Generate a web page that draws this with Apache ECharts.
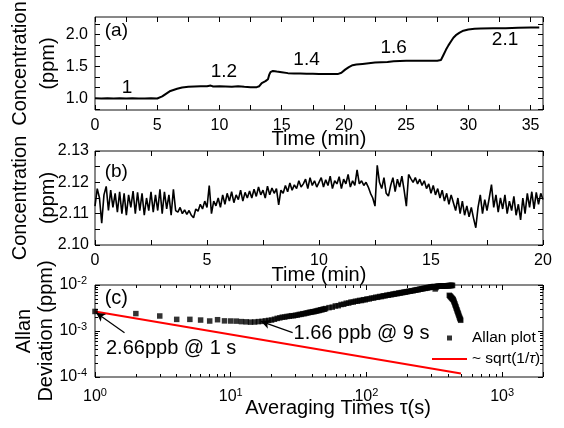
<!DOCTYPE html>
<html><head><meta charset="utf-8">
<script src="https://cdn.jsdelivr.net/npm/echarts@6/dist/echarts.min.js"></script>
<style>html,body{margin:0;padding:0;background:#fff}#c{width:564px;height:428px}</style>
</head><body><div id="c"></div>
<script>
// ---------------- DATA ----------------
// Panel (a): concentration steps
const timeA = [0,0.5,1,1.5,2,2.5,3,3.5,4,4.5,5,
  5.1,5.4,5.7,6,6.3,6.6,7,7.5,8,8.5,9,9.3,9.5,10,10.5,11,11.5,12,12.5,13,
  13.2,13.4,13.7,13.9,14,14.1,14.3,14.6,15,15.5,16,16.5,17,17.5,18,18.5,19,19.5,19.8,
  20.1,20.4,20.7,21,21.5,22,22.5,23,23.5,24,24.5,25,25.5,26,26.5,27,27.5,27.8,
  28,28.2,28.4,28.6,28.8,29,29.3,29.6,30,30.5,31,32,33,34,35,35.7];
const concA = [1.0,0.998,1.0,0.997,1.0,0.998,1.0,0.999,0.998,1.0,0.998,
  1.0,1.03,1.07,1.11,1.13,1.15,1.17,1.18,1.185,1.19,1.19,1.20,1.185,1.19,1.185,1.18,1.188,1.18,1.175,1.175,
  1.19,1.24,1.27,1.30,1.37,1.41,1.43,1.42,1.41,1.395,1.39,1.39,1.385,1.385,1.38,1.38,1.38,1.38,1.40,
  1.45,1.49,1.52,1.53,1.54,1.55,1.56,1.565,1.57,1.58,1.585,1.59,1.59,1.59,1.59,1.59,1.59,1.60,
  1.68,1.76,1.83,1.89,1.95,1.99,2.03,2.06,2.08,2.09,2.095,2.10,2.10,2.105,2.11,2.11];
const stepLabelsA = ['1','1.2','1.4','1.6','2.1'];
const xLabelsA = [0,5,10,15,20,25,30,35];
const yLabelsA = [1.0,1.5,2.0];
const yTicksA = [0.8333,1,1.1667,1.3333,1.5,1.6667,1.8333,2,2.1667];

// Panel (b): stability trace at 2.1 ppm, one sample every 0.1 min
const stepB = 0.1;
const valuesB = [2.1124,2.1180,2.1150,2.1070,2.1160,2.1187,2.1110,2.1175,2.1120,2.1165,2.1105,
  2.1170,2.1100,2.1165,2.1095,2.1160,2.1120,2.1172,2.1100,2.1168,2.1110,
  2.1165,2.1095,2.1150,2.1110,2.1170,2.1105,2.1160,2.1110,2.1178,2.1100,
  2.1170,2.1115,2.1160,2.1095,2.1178,2.1110,2.1105,2.1120,2.1100,2.1112,
  2.1098,2.1110,2.1095,2.1087,2.1115,2.1108,2.1130,2.1115,2.1140,2.1120,
  2.1190,2.1100,2.1140,2.1125,2.1150,2.1120,2.1160,2.1130,2.1165,2.1140,
  2.1170,2.1135,2.1160,2.1145,2.1175,2.1140,2.1168,2.1150,2.1172,2.1150,
  2.1178,2.1155,2.1185,2.1160,2.1175,2.1150,2.1188,2.1160,2.1182,2.1165,
  2.1180,2.1128,2.1175,2.1165,2.1190,2.1170,2.1198,2.1175,2.1192,2.1180,
  2.1205,2.1185,2.1195,2.1210,2.1180,2.1215,2.1190,2.1205,2.1185,2.1200,
  2.1215,2.1185,2.1208,2.1190,2.1220,2.1180,2.1205,2.1195,2.1218,2.1180,
  2.1210,2.1195,2.1225,2.1185,2.1205,2.1190,2.1240,2.1195,2.1205,2.1190,
  2.1200,2.1185,2.1165,2.1150,2.1124,2.1254,2.1200,2.1180,2.1215,2.1165,
  2.1156,2.1190,2.1215,2.1170,2.1210,2.1185,2.1220,2.1175,2.1124,2.1225,
  2.1212,2.1200,2.1215,2.1195,2.1210,2.1190,2.1205,2.1180,2.1195,2.1165,
  2.1190,2.1160,2.1180,2.1150,2.1175,2.1140,2.1165,2.1130,2.1160,2.1135,
  2.1110,2.1150,2.1100,2.1140,2.1095,2.1125,2.1090,2.1120,2.1085,2.1055,
  2.1120,2.1160,2.1100,2.1145,2.1110,2.1150,2.1193,2.1120,2.1160,2.1105,
  2.1150,2.1115,2.1160,2.1100,2.1140,2.1110,2.1155,2.1095,2.1130,2.1080,
  2.1150,2.1100,2.1165,2.1120,2.1170,2.1115,2.1168,2.1130,2.1165,2.1145];
const xLabelsB = [0,5,10,15,20];
const yLabelsB = [2.10,2.11,2.12,2.13];
const yTicksB = [2.10,2.105,2.11,2.115,2.12,2.125,2.13];

// Panel (c): Allan deviation (tau in s, deviation in ppb)
const tauC = [1,2,3,4,5,6,7,8,9,10,11,12,13,14,15,16,17,18,19,20,
  21,22,23,24,25,26,27,28,29,30,31,32,33,34,35,36,37,38,39,40,41,42,43,44,45,46,47,48,49,50,
  53,56,59,62,65,68,71,74,77,80,83,86,89,92,95,98,101,
  105,109,113,117,121,125,129,133,137,141,145,149,153,157,161,165,169,173,177,181,185,189,193,197,201,
  206,211,216,221,226,231,236,241,246,251,256,261,266,271,276,281,286,291,296,301,
  306,311,316,321,326,331,336,341,346,351,356,361,366,371,376,381,386,391,396,401,
  406,411,416,421,426,431,
  408,412,416,420,424,428,432,436,440,444,448,452,456,460,464,468,472,476,480,484,488,492,495];
const allanPpb = [2.66,2.39,2.12,1.79,1.79,1.73,1.65,1.76,1.66,1.65,1.64,1.60,1.58,1.56,1.57,1.60,1.62,1.66,1.70,1.73,
  1.80,1.88,1.93,2.00,2.01,2.07,2.09,2.15,2.14,2.20,2.22,2.29,2.30,2.38,2.38,2.46,2.47,2.55,2.55,2.63,2.62,2.70,2.71,2.79,2.80,2.89,2.89,2.98,2.98,3.07,
  3.22,3.30,3.50,3.55,3.76,3.81,4.01,4.05,4.25,4.26,4.43,4.45,4.62,4.60,4.79,4.78,4.97,
  4.98,5.19,5.20,5.41,5.40,5.62,5.60,5.83,5.80,6.00,5.98,6.18,6.15,6.36,6.33,6.52,6.49,6.69,6.66,6.85,6.82,7.00,6.98,7.16,7.15,
  7.33,7.33,7.52,7.50,7.72,7.70,7.92,7.88,8.12,8.08,8.30,8.28,8.50,8.45,8.68,8.64,8.85,8.80,9.02,8.98,
  9.18,9.20,9.28,8.20,8.80,9.30,9.38,9.40,9.45,9.42,9.50,9.48,9.55,9.52,9.60,9.58,9.64,9.62,9.68,9.66,
  9.72,9.70,9.76,9.74,9.80,9.78,
  5.97,5.80,5.62,5.45,5.25,5.10,4.95,4.80,4.50,4.20,3.90,3.62,3.38,3.12,2.90,2.70,2.51,2.35,2.18,2.02,1.90,1.80,1.71];
const fitTau = [1, 497];
const fitPpb = [2.66, 0.119];
const minorTauC = [2,3,4,5,6,7,8,9,20,30,40,50,60,70,80,90,200,300,400,500,600,700,800,900];
const minorDevC = [2e-4,3e-4,4e-4,5e-4,6e-4,7e-4,8e-4,9e-4,2e-3,3e-3,4e-3,5e-3,6e-3,7e-3,8e-3,9e-3];

// ---------------- CHART ----------------
const FONT = 'Liberation Sans, Arial, sans-serif';
const BLACK = '#000';
const chart = echarts.init(document.getElementById('c'), null, {renderer: 'canvas'});

const tick = (len, extra) => Object.assign({show: true, inside: true, length: len, lineStyle: {color: BLACK, width: 1}}, extra || {});
const noLine = {show: false, onZero: false};
const lbl = (extra) => Object.assign({color: BLACK, fontSize: 16, fontFamily: FONT}, extra || {});
const nameStyle = (extra) => Object.assign({color: BLACK, fontSize: 20, fontFamily: FONT}, extra || {});

const supFmt = v => {
  const l = Math.log10(v); const e = Math.round(l);
  if (Math.abs(l - e) > 1e-6) return '';
  return '{b|10}{s|' + e + '}';
};
const supRich = {
  b: {fontSize: 16, lineHeight: 20, fontFamily: FONT, color: BLACK},
  s: {fontSize: 11, lineHeight: 11, verticalAlign: 'top', fontFamily: FONT, color: BLACK}
};

const grids = [
  {left: 95, right: 21, top: 17, height: 93},
  {left: 95, right: 21, top: 151, height: 94},
  {left: 95, right: 21, top: 285, height: 92}
].map(g => Object.assign({show: true, borderColor: '#111', borderWidth: 1, backgroundColor: 'transparent',
  containLabel: false, outerBoundsMode: 'none'}, g));

const xAxes = [
  {gridIndex: 0, type: 'value', position: 'bottom', min: 0, max: 36, interval: 2.5,
   axisLine: noLine, axisTick: tick(5), splitLine: {show: false},
   axisLabel: lbl({margin: 8, formatter: v => xLabelsA.indexOf(v) >= 0 ? String(v) : ''}),
   name: 'Time (min)', nameLocation: 'middle', nameGap: 19, nameMoveOverlap: false,
   nameTextStyle: nameStyle()},
  {gridIndex: 0, type: 'value', position: 'top', min: 0, max: 36, interval: 2.5,
   axisLine: noLine, axisTick: tick(5), splitLine: {show: false}, axisLabel: {show: false}},
  {gridIndex: 1, type: 'value', position: 'bottom', min: 0, max: 20, interval: 2.5,
   axisLine: noLine, axisTick: tick(5), splitLine: {show: false},
   axisLabel: lbl({margin: 8, formatter: v => xLabelsB.indexOf(v) >= 0 ? String(v) : ''}),
   name: 'Time (min)', nameLocation: 'middle', nameGap: 20, nameMoveOverlap: false,
   nameTextStyle: nameStyle()},
  {gridIndex: 1, type: 'value', position: 'top', min: 0, max: 20, interval: 2.5,
   axisLine: noLine, axisTick: tick(5), splitLine: {show: false}, axisLabel: {show: false}},
  {gridIndex: 2, type: 'log', logBase: 10, position: 'bottom', min: 1, max: 2000,
   axisLine: noLine, axisTick: tick(5), splitLine: {show: false}, minorTick: {show: false},
   axisLabel: lbl({margin: 10, formatter: supFmt, rich: supRich}),
   name: 'Averaging Times \u03c4(s)', nameLocation: 'middle', nameGap: 21, nameMoveOverlap: false,
   nameTextStyle: nameStyle({padding: [0, 0, 0, 38]})},
  {gridIndex: 2, type: 'log', logBase: 10, position: 'top', min: 1, max: 2000,
   axisLine: noLine, axisTick: tick(5), splitLine: {show: false}, axisLabel: {show: false}},
  {gridIndex: 2, type: 'value', position: 'bottom', min: 0, max: Math.log10(2000),
   axisLine: noLine, splitLine: {show: false}, axisLabel: {show: false},
   axisTick: tick(3, {customValues: minorTauC.map(Math.log10)})},
  {gridIndex: 2, type: 'value', position: 'top', min: 0, max: Math.log10(2000),
   axisLine: noLine, splitLine: {show: false}, axisLabel: {show: false},
   axisTick: tick(3, {customValues: minorTauC.map(Math.log10)})}
];

const yAxes = [
  {gridIndex: 0, type: 'value', position: 'left', min: 0.817, max: 2.275,
   axisLine: noLine, splitLine: {show: false},
   axisTick: tick(5, {customValues: yTicksA}),
   axisLabel: lbl({margin: 7, customValues: yLabelsA, formatter: v => v.toFixed(1)}),
   name: 'Concentration\n(ppm)', nameLocation: 'middle', nameRotate: 90, nameGap: 33,
   nameMoveOverlap: false, nameTextStyle: nameStyle({lineHeight: 28})},
  {gridIndex: 0, type: 'value', position: 'right', min: 0.817, max: 2.275,
   axisLine: noLine, splitLine: {show: false}, axisLabel: {show: false},
   axisTick: tick(5, {customValues: yTicksA})},
  {gridIndex: 1, type: 'value', position: 'left', min: 2.10, max: 2.13,
   axisLine: noLine, splitLine: {show: false},
   axisTick: tick(5, {customValues: yTicksB}),
   axisLabel: lbl({margin: 6, customValues: yLabelsB, formatter: v => v.toFixed(2)}),
   name: 'Concentration\n(ppm)', nameLocation: 'middle', nameRotate: 90, nameGap: 33,
   nameMoveOverlap: false, nameTextStyle: nameStyle({lineHeight: 28})},
  {gridIndex: 1, type: 'value', position: 'right', min: 2.10, max: 2.13,
   axisLine: noLine, splitLine: {show: false}, axisLabel: {show: false},
   axisTick: tick(5, {customValues: yTicksB})},
  {gridIndex: 2, type: 'log', logBase: 10, position: 'left', min: 1e-4, max: 1e-2,
   axisLine: noLine, splitLine: {show: false}, minorTick: {show: false},
   axisTick: tick(5),
   axisLabel: lbl({margin: 8, formatter: supFmt, rich: supRich}),
   name: 'Allan\nDeviation (ppm)', nameLocation: 'middle', nameRotate: 90, nameGap: 38,
   nameMoveOverlap: false, nameTextStyle: nameStyle({lineHeight: 22})},
  {gridIndex: 2, type: 'log', logBase: 10, position: 'right', min: 1e-4, max: 1e-2,
   axisLine: noLine, splitLine: {show: false}, axisLabel: {show: false}, axisTick: tick(5)},
  {gridIndex: 2, type: 'value', position: 'left', min: -4, max: -2,
   axisLine: noLine, splitLine: {show: false}, axisLabel: {show: false},
   axisTick: tick(3, {customValues: minorDevC.map(Math.log10)})},
  {gridIndex: 2, type: 'value', position: 'right', min: -4, max: -2,
   axisLine: noLine, splitLine: {show: false}, axisLabel: {show: false},
   axisTick: tick(3, {customValues: minorDevC.map(Math.log10)})}
];

const textMark = (items, size) => ({
  silent: true, symbol: 'circle', symbolSize: 1, itemStyle: {color: 'rgba(0,0,0,0)'},
  animation: false,
  label: {show: true, position: 'inside', color: BLACK, fontSize: size || 18, fontFamily: FONT,
          formatter: p => p.name},
  data: items.map(it => ({name: it[0], coord: [it[1], it[2]]}))
});

const series = [
  {type: 'line', xAxisIndex: 0, yAxisIndex: 0, showSymbol: false, symbol: 'none',
   data: timeA.map((t, i) => [t, concA[i]]),
   lineStyle: {color: BLACK, width: 2}, itemStyle: {color: BLACK},
   markPoint: textMark([
     ['(a)', 1.72, 2.056],
     [stepLabelsA[0], 2.57, 1.158],
     [stepLabelsA[1], 10.36, 1.419],
     [stepLabelsA[2], 17.0, 1.60],
     [stepLabelsA[3], 24.0, 1.79],
     [stepLabelsA[4], 32.95, 1.914]
   ], 19)},
  {type: 'line', xAxisIndex: 2, yAxisIndex: 2, showSymbol: false, symbol: 'none',
   data: valuesB.map((v, i) => [i * stepB, v]),
   lineStyle: {color: BLACK, width: 1.6}, itemStyle: {color: BLACK},
   markPoint: textMark([['(b)', 0.95, 2.1235]], 19)},
  {type: 'scatter', name: 'Allan plot', xAxisIndex: 4, yAxisIndex: 4,
   symbol: 'rect', symbolSize: 5.5, itemStyle: {color: BLACK},
   data: tauC.map((t, i) => [t, allanPpb[i] / 1000]),
   markPoint: textMark([
     ['(c)', 1.435, 5.14e-3],
     ['2.66ppb @ 1 s', 3.64, 4.1e-4],
     ['1.66 ppb @ 9 s', 92, 8.9e-4]
   ], 20),
   markLine: {silent: true, animation: false, symbol: ['arrow', 'none'], symbolSize: [7, 9],
     lineStyle: {color: BLACK, width: 1.2, type: 'solid'}, label: {show: false},
     data: [
       [{coord: [1.02, 2.5e-3]}, {coord: [1.65, 9.2e-4]}],
       [{coord: [16.7, 1.62e-3]}, {coord: [28.6, 9.2e-4]}]
     ]}},
  {type: 'line', name: '~ sqrt(1/\u03c4)', xAxisIndex: 4, yAxisIndex: 4,
   showSymbol: false, symbol: 'none',
   data: fitTau.map((t, i) => [t, fitPpb[i] / 1000]),
   lineStyle: {color: '#ff0000', width: 2}, itemStyle: {color: '#ff0000'}, z: 1}
];

chart.setOption({
  animation: false,
  backgroundColor: '#fff',
  textStyle: {fontFamily: FONT, color: BLACK},
  grid: grids,
  xAxis: xAxes,
  yAxis: yAxes,
  legend: {
    data: [
      {name: 'Allan plot', icon: 'path://M0,0h10v10h-10z'},
      {name: '~ sqrt(1/\u03c4)', icon: 'path://M0,0h70v4h-70z'}
    ],
    orient: 'vertical', left: 432, top: 330, padding: 0,
    itemWidth: 35, itemHeight: 5, itemGap: 5, symbolKeepAspect: true,
    textStyle: {color: BLACK, fontSize: 15.5, fontFamily: FONT,
      rich: {i: {fontStyle: 'italic', fontSize: 15.5, color: BLACK, fontFamily: FONT}}},
    formatter: n => n.replace('\u03c4', '{i|\u03c4}')
  },
  series: series
});
</script>
</body></html>
